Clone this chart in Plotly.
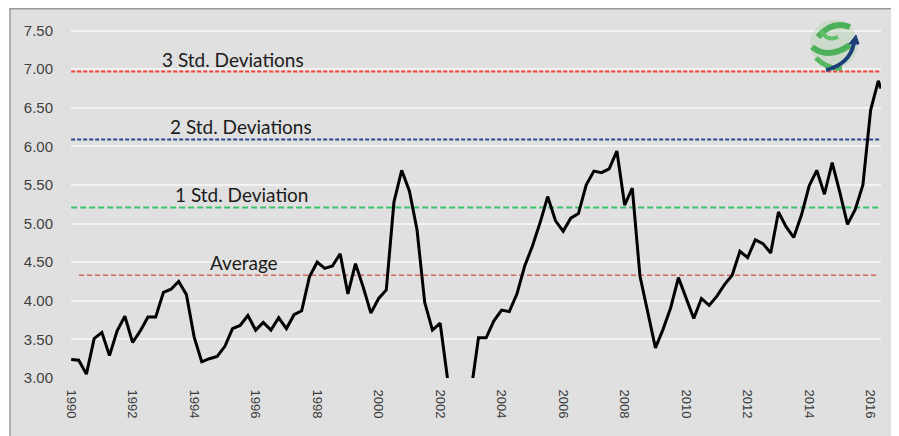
import pandas as pd
import plotly.graph_objects as go

# ---------------- data ----------------
values = [
    3.24, 3.23, 3.05, 3.51, 3.59, 3.29, 3.61, 3.80, 3.46, 3.61,
    3.79, 3.79, 4.11, 4.15, 4.25, 4.08, 3.53, 3.21, 3.25, 3.28,
    3.41, 3.64, 3.68, 3.81, 3.62, 3.72, 3.62, 3.78, 3.64, 3.82,
    3.87, 4.31, 4.50, 4.42, 4.45, 4.61, 4.09, 4.48, 4.18, 3.84,
    4.03, 4.14, 5.28, 5.69, 5.42, 4.92, 3.98, 3.62, 3.71, 2.97,
    2.70, 2.65, 2.82, 3.52, 3.52, 3.74, 3.88, 3.86, 4.09, 4.45,
    4.71, 5.01, 5.35, 5.04, 4.90, 5.07, 5.13, 5.50, 5.68, 5.66,
    5.71, 5.94, 5.24, 5.46, 4.32, 3.87, 3.39, 3.63, 3.91, 4.30,
    4.03, 3.77, 4.03, 3.94, 4.06, 4.21, 4.33, 4.64, 4.56, 4.79,
    4.74, 4.62, 5.15, 4.96, 4.82, 5.11, 5.49, 5.69, 5.38, 5.79,
    5.40, 4.99, 5.18, 5.50, 6.47, 6.85,
]
last_value = 6.75
dates = list(pd.date_range("1990-01-01", periods=len(values), freq="QS").strftime("%Y-%m-%d"))
dates.append("2016-05-01")
values_all = values + [last_value]

level_names = ["Average", "1 Std. Deviation", "2 Std. Deviations", "3 Std. Deviations"]
level_values = [4.33, 5.21, 6.09, 6.97]
level_colors = ["#d2685e", "#3cc26c", "#2b4a8c", "#f4423a"]
level_starts = ["1990-04-05", "1990-01-01", "1990-01-01", "1990-01-01"]
level_ends = ["2016-03-15", "2016-05-01", "2016-05-01", "2016-05-01"]
level_dash = ["5px,3px", "6px,3px", "4px,2px", "4px,2px"]
level_width = [1.6, 2, 2, 2]
label_x = ["1995-08-15", "1995-07-23", "1995-07-12", "1995-04-08"]
label_y = [4.50, 5.38, 6.26, 7.13]

year_ticks = [str(y) for y in range(1990, 2017, 2)]
y_ticks = [3.0, 3.5, 4.0, 4.5, 5.0, 5.5, 6.0, 6.5, 7.0, 7.5]

BG = "#e0e0e0"

fig = go.Figure()

for name, val, col, x0, x1, dash, w in zip(level_names, level_values, level_colors,
                                             level_starts, level_ends, level_dash, level_width):
    fig.add_trace(go.Scatter(x=[x0, x1], y=[val, val], mode="lines",
                             line=dict(color=col, width=w, dash=dash),
                             hoverinfo="skip", showlegend=False))

fig.add_trace(go.Scatter(x=dates, y=values_all, mode="lines",
                         line=dict(color="#000000", width=3),
                         showlegend=False))

for name, lx, ly in zip(level_names, label_x, label_y):
    fig.add_annotation(x=lx, y=ly, text=name, showarrow=False,
                       font=dict(family="Lato, Open Sans, sans-serif", size=19, color="#1b1b1b"),
                       xanchor="center", yanchor="middle")

# ---- geometry (page has an 8px body margin: compensate) ----
OFF = 8
W, H = 899 - OFF, 436 - OFF
L, T = 71 - OFF, 19 - OFF
R = W - (881 - OFF)
B = H - (378 - OFF)
pw, ph = W - L - R, H - T - B


def px(xs):  # screen pixel -> paper
    return (xs - OFF - L) / pw


def py(ys):
    return (H - B - (ys - OFF)) / ph


shapes = [
    dict(type="rect", xref="paper", yref="paper", x0=px(10), x1=px(930), y0=py(8.7), y1=py(470),
         fillcolor=BG, line=dict(color="#9a9a9a", width=1.5), layer="below"),
]

# ---- decorative logo (approximation) ----
logo_paths = [
    ("M {} {} Q {} {} {} {}".format(px(818), py(37), px(832), py(20), px(850), py(27)), "#4db05a", 6),
    ("M {} {} Q {} {} {} {}".format(px(812), py(47), px(828), py(60), px(850), py(45)), "#4db05a", 6),
    ("M {} {} Q {} {} {} {}".format(px(816), py(58), px(828), py(70), px(842), py(68)), "#56b862", 5),
    ("M {} {} Q {} {} {} {}".format(px(821), py(30), px(826), py(42), px(838), py(37)), "#5fbf6b", 4),
    ("M {} {} Q {} {} {} {}".format(px(826), py(70), px(850), py(64), px(854), py(43)), "#1d3f78", 4),
]
shapes.append(dict(type="circle", xref="paper", yref="paper", x0=px(810), x1=px(858),
                   y0=py(68), y1=py(20), fillcolor="rgba(140,200,140,0.25)",
                   line=dict(width=0)))
for path, col, w in logo_paths:
    shapes.append(dict(type="path", xref="paper", yref="paper", path=path,
                       line=dict(color=col, width=w)))
shapes.append(dict(type="path", xref="paper", yref="paper",
                   path="M {} {} L {} {} L {} {} Z".format(px(849), py(44), px(859), py(44), px(856), py(35)),
                   fillcolor="#1d3f78", line=dict(color="#1d3f78", width=1)))

fig.update_layout(
    width=W, height=H,
    margin=dict(l=L, r=R, t=T, b=B),
    paper_bgcolor="#ffffff",
    plot_bgcolor=BG,
    shapes=shapes,
    showlegend=False,
    xaxis=dict(
        type="date",
        range=["1989-12-30", "2016-05-03"],
        tickvals=[y + "-01-01" for y in year_ticks],
        ticktext=year_ticks,
        tickangle=90,
        showgrid=False, zeroline=False, showline=False,
        ticks="outside", ticklen=8, tickcolor=BG,
        tickfont=dict(family="Liberation Sans, Arial, sans-serif", size=13, color="#3a3a3a"),
    ),
    yaxis=dict(
        range=[3.0, 7.65],
        tickvals=y_ticks,
        ticktext=["{:.2f}".format(v) for v in y_ticks],
        showgrid=True, gridcolor="#f3f3f3", gridwidth=2,
        zeroline=False, showline=False,
        ticks="outside", ticklen=14, tickcolor=BG,
        tickfont=dict(family="Liberation Sans, Arial, sans-serif", size=15, color="#404040"),
    ),
)

fig.write_html("out.html")
